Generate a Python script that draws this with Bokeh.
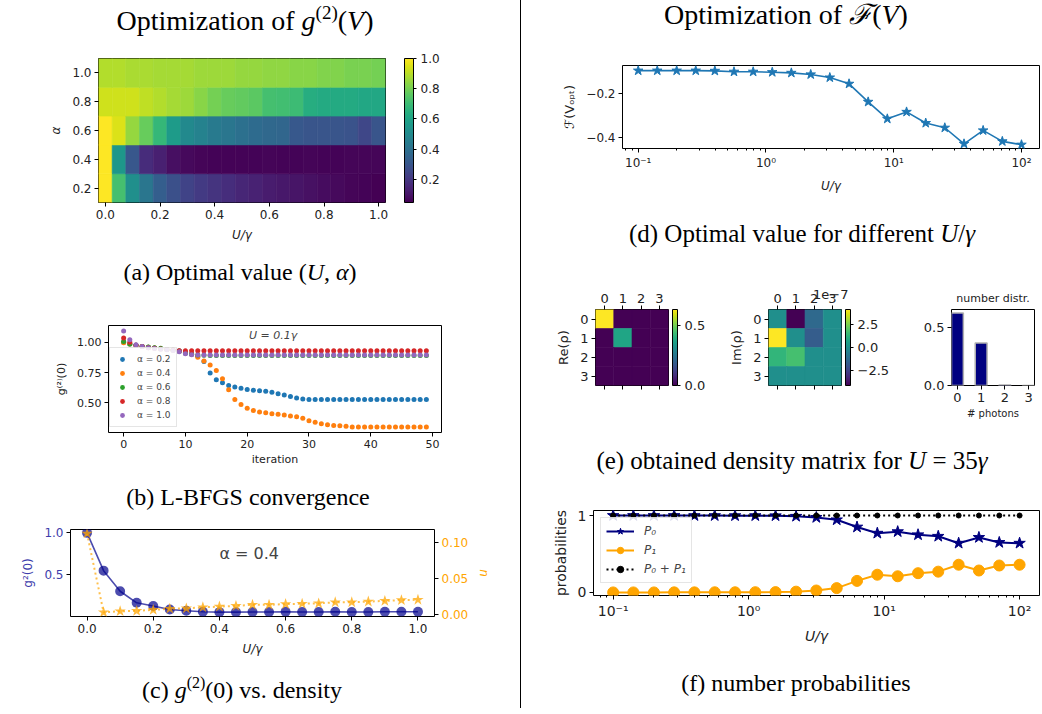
import numpy as np
from bokeh.plotting import figure
from bokeh.models import (ColumnDataSource, LinearColorMapper, ColorBar, Range1d, LinearAxis,
                          FixedTicker, PrintfTickFormatter, CustomJSTickFormatter, Label,
                          Legend, LegendItem, Div, Title)
from bokeh.layouts import row, column
from bokeh.palettes import Viridis256
from bokeh.transform import transform
from bokeh.embed import file_html
from bokeh.resources import INLINE

FONT = "DejaVu Sans"
SERIF = "Liberation Serif"

# ---------------- data ----------------
# (a) heatmap of g2 over (U, alpha)
u_grid = [0.00, 0.05, 0.10, 0.15, 0.20, 0.25, 0.30, 0.35, 0.40, 0.45, 0.50,
          0.55, 0.60, 0.65, 0.70, 0.75, 0.80, 0.85, 0.90, 0.95, 1.00]
alpha_grid = [0.2, 0.4, 0.6, 0.8, 1.0]
g2_alpha02 = [1.00, 0.72, 0.52, 0.42, 0.33, 0.28, 0.24, 0.21, 0.19, 0.17, 0.15,
              0.14, 0.12, 0.11, 0.10, 0.09, 0.08, 0.07, 0.06, 0.055, 0.047]
g2_alpha04 = [1.000, 0.550, 0.305, 0.167, 0.130, 0.087, 0.072, 0.060, 0.056, 0.056, 0.057,
              0.058, 0.060, 0.058, 0.057, 0.060, 0.057, 0.058, 0.060, 0.060, 0.061]
g2_alpha06 = [1.00, 0.95, 0.85, 0.78, 0.68, 0.57, 0.50, 0.47, 0.44, 0.42, 0.40,
              0.38, 0.37, 0.36, 0.31, 0.30, 0.30, 0.30, 0.29, 0.25, 0.30]
g2_alpha08 = [0.93, 0.93, 0.93, 0.91, 0.89, 0.87, 0.86, 0.83, 0.80, 0.78, 0.77,
              0.76, 0.72, 0.71, 0.70, 0.64, 0.63, 0.63, 0.63, 0.62, 0.62]
g2_alpha10 = [0.89, 0.89, 0.88, 0.88, 0.87, 0.87, 0.87, 0.86, 0.86, 0.86, 0.85,
              0.85, 0.84, 0.84, 0.83, 0.83, 0.82, 0.82, 0.81, 0.81, 0.80]

# (b) L-BFGS convergence at U = 0.1 gamma
iterations = list(range(50))
conv_a02 = [1.000, 0.985, 0.975, 0.965, 0.958, 0.952, 0.946, 0.940, 0.935, 0.930,
            0.918, 0.905, 0.885, 0.840, 0.745, 0.690, 0.665, 0.643, 0.630, 0.620,
            0.610, 0.603, 0.600, 0.595, 0.588, 0.575, 0.565, 0.552, 0.540, 0.532,
            0.528, 0.527, 0.527, 0.527, 0.527, 0.527, 0.527, 0.527, 0.527, 0.527,
            0.527, 0.527, 0.527, 0.527, 0.527, 0.527, 0.527, 0.527, 0.527, 0.527]
conv_a04 = [0.995, 0.985, 0.975, 0.965, 0.958, 0.952, 0.946, 0.940, 0.935, 0.928,
            0.915, 0.900, 0.876, 0.845, 0.813, 0.767, 0.698, 0.607, 0.527, 0.486,
            0.456, 0.437, 0.425, 0.418, 0.410, 0.405, 0.400, 0.392, 0.385, 0.372,
            0.352, 0.340, 0.328, 0.318, 0.312, 0.310, 0.307, 0.300, 0.300, 0.300,
            0.300, 0.300, 0.300, 0.300, 0.300, 0.300, 0.300, 0.300, 0.300, 0.300]
conv_a06 = [1.005, 0.985, 0.975, 0.965, 0.960, 0.955, 0.950, 0.940, 0.935, 0.925,
            0.910, 0.900, 0.895, 0.892, 0.890, 0.890, 0.890, 0.890, 0.890, 0.890,
            0.890, 0.890, 0.890, 0.890, 0.890, 0.890, 0.890, 0.890, 0.890, 0.890,
            0.890, 0.890, 0.890, 0.890, 0.890, 0.890, 0.890, 0.890, 0.890, 0.890,
            0.890, 0.890, 0.890, 0.890, 0.890, 0.890, 0.890, 0.890, 0.890, 0.890]
conv_a08 = [1.035, 1.000, 0.975, 0.965, 0.955, 0.950, 0.945, 0.940, 0.935, 0.930,
            0.930, 0.930, 0.930, 0.930, 0.930, 0.930, 0.930, 0.930, 0.930, 0.930,
            0.930, 0.930, 0.930, 0.930, 0.930, 0.930, 0.930, 0.930, 0.930, 0.930,
            0.930, 0.930, 0.930, 0.930, 0.930, 0.930, 0.930, 0.930, 0.930, 0.930,
            0.930, 0.930, 0.930, 0.930, 0.930, 0.930, 0.930, 0.930, 0.930, 0.930]
conv_a10 = [1.092, 1.020, 0.980, 0.965, 0.955, 0.948, 0.942, 0.937, 0.932, 0.922,
            0.905, 0.897, 0.895, 0.895, 0.895, 0.895, 0.895, 0.895, 0.895, 0.895,
            0.895, 0.895, 0.895, 0.895, 0.895, 0.895, 0.895, 0.895, 0.895, 0.895,
            0.895, 0.895, 0.895, 0.895, 0.895, 0.895, 0.895, 0.895, 0.895, 0.895,
            0.895, 0.895, 0.895, 0.895, 0.895, 0.895, 0.895, 0.895, 0.895, 0.895]
conv_labels = ["α = 0.2", "α = 0.4", "α = 0.6", "α = 0.8", "α = 1.0"]
conv_colors = ["#1f77b4", "#ff7f0e", "#2ca02c", "#d62728", "#9467bd"]

# (c) g2 and density n at alpha = 0.4
n_alpha04 = [0.1130, 0.0030, 0.0045, 0.0050, 0.0065, 0.0080, 0.0085, 0.0100, 0.0110, 0.0120, 0.0135,
             0.0135, 0.0145, 0.0150, 0.0155, 0.0170, 0.0170, 0.0180, 0.0190, 0.0200, 0.0205]

# (d) optimal cost vs U/gamma
u_log = [0.1, 0.141, 0.2, 0.282, 0.398, 0.562, 0.794, 1.12, 1.58, 2.24, 3.16,
         4.47, 6.31, 8.91, 12.6, 17.8, 25.1, 35.5, 50.1, 70.8, 100.0]
f_opt = [-0.099, -0.099, -0.099, -0.099, -0.100, -0.104, -0.104, -0.106, -0.109, -0.116, -0.130,
         -0.158, -0.239, -0.315, -0.284, -0.334, -0.355, -0.427, -0.367, -0.416, -0.431]

# (e) density matrix at U = 35 gamma
fock = [0, 1, 2, 3]
re_rho = [[0.63, 0.0, 0.0, 0.0],
          [0.0, 0.37, 0.0, 0.0],
          [0.0, 0.0, 0.0, 0.0],
          [0.0, 0.0, 0.0, 0.0]]
im_rho = [[0.0, -4.15e-7, -1.3e-7, 0.0],
          [4.15e-7, 0.0, -1.7e-7, 0.0],
          [1.3e-7, 1.7e-7, 0.0, 0.0],
          [0.0, 0.0, 0.0, 0.0]]
photon_prob = [0.63, 0.37, 0.004, 0.0005]

# (f) number probabilities
p0 = [1.000, 1.000, 1.000, 1.000, 0.999, 0.999, 0.998, 0.998, 0.997, 0.990, 0.975,
      0.944, 0.850, 0.770, 0.790, 0.750, 0.730, 0.640, 0.715, 0.650, 0.640]
p1 = [0.000, 0.000, 0.000, 0.001, 0.001, 0.002, 0.002, 0.003, 0.004, 0.010, 0.025,
      0.056, 0.150, 0.230, 0.210, 0.250, 0.270, 0.360, 0.285, 0.350, 0.360]
p_sum = [1.000, 1.000, 1.000, 1.001, 1.000, 1.001, 1.000, 1.001, 1.001, 1.000, 1.000,
         1.000, 1.000, 1.000, 1.000, 1.000, 1.000, 1.000, 1.000, 1.000, 1.000]


# ---------------- helpers ----------------
def mkfig(fw, fh, bl, br, bt, bb, **kw):
    p = figure(frame_width=fw, frame_height=fh, min_border_left=bl, min_border_right=br,
               min_border_top=bt, min_border_bottom=bb, toolbar_location=None,
               output_backend="svg", frame_align=False, **kw)
    p.background_fill_color = "white"
    p.border_fill_color = "white"
    p.outline_line_color = "black"
    p.outline_line_width = 1
    p.outline_line_alpha = 1
    p.grid.visible = False
    return p


def style_axes(p, fs="11px"):
    for ax in p.axis:
        ax.axis_line_color = None
        ax.major_tick_line_color = "black"
        ax.major_tick_out = 4
        ax.major_tick_in = 0
        ax.minor_tick_line_color = None
        ax.major_label_text_font = FONT
        ax.major_label_text_font_size = fs
        ax.major_label_text_color = "#222222"
        ax.axis_label_text_font = FONT
        ax.axis_label_text_font_size = fs
        ax.axis_label_text_font_style = "normal"
        ax.axis_label_text_color = "#222222"
        ax.major_label_standoff = 3
        ax.axis_label_standoff = 6


def log_fmt():
    return CustomJSTickFormatter(code="""
const e = Math.round(Math.log10(tick));
const m = {'-': '\u207b', '0': '\u2070', '1': '\u00b9', '2': '\u00b2', '3': '\u00b3'};
return '10' + String(e).split('').map(c => m[c]).join('');
""")


def text_div(html, width, height, center, cy_rel, size=24):
    lh = size + 4
    top = cy_rel - lh // 2
    inner = (f'<div style="position:relative;left:{center - 300}px;width:600px;text-align:center;'
             f'font-family:\'{SERIF}\';font-size:{size}px;line-height:{lh}px;margin-top:{top}px;'
             f'color:#000;white-space:nowrap;">{html}</div>')
    return Div(text=inner, width=width, height=height, margin=0)


def sup(size):
    return (f'<sup style="font-size:{int(size * 0.68)}px;line-height:0;'
            f'vertical-align:{int(size * 0.42)}px;">(2)</sup>')


def cbar(mapper, width, height, ticks, formatter, fs, gap):
    return ColorBar(color_mapper=mapper, width=width, height=height, padding=0, margin=0,
                    location=(gap, 0),
                    label_standoff=4, ticker=FixedTicker(ticks=ticks), formatter=formatter,
                    major_label_text_font=FONT, major_label_text_font_size=fs,
                    major_label_text_color="#222222",
                    major_tick_line_color="black", major_tick_in=0, major_tick_out=3,
                    bar_line_color="black", border_line_color=None, background_fill_color=None)


# ---------------- (a) heatmap ----------------
g2_rows = [g2_alpha02, g2_alpha04, g2_alpha06, g2_alpha08, g2_alpha10]
hx, hy, hv = [], [], []
for a, rowvals in zip(alpha_grid, g2_rows):
    for u, v in zip(u_grid, rowvals):
        hx.append(u)
        hy.append(a)
        hv.append(v)
map_a = LinearColorMapper(palette=Viridis256, low=min(hv), high=max(hv))
pa = mkfig(287, 144, 98, 135, 14, 48, x_range=Range1d(-0.025, 1.025), y_range=Range1d(0.1, 1.1))
pa.rect(x="x", y="y", width=0.05, height=0.2, source=ColumnDataSource(dict(x=hx, y=hy, v=hv)),
        fill_color=transform("v", map_a), line_color=transform("v", map_a), line_width=0.6)
pa.xaxis.ticker = FixedTicker(ticks=[0.0, 0.2, 0.4, 0.6, 0.8, 1.0])
pa.yaxis.ticker = FixedTicker(ticks=[0.2, 0.4, 0.6, 0.8, 1.0])
pa.xaxis.formatter = PrintfTickFormatter(format="%.1f")
pa.yaxis.formatter = PrintfTickFormatter(format="%.1f")
pa.xaxis.axis_label = "U/γ"
pa.yaxis.axis_label = "α"
style_axes(pa, "12px")
pa.xaxis.axis_label_text_font_style = "italic"
pa.yaxis.axis_label_text_font_style = "italic"
pa.add_layout(cbar(map_a, 9, 144, [0.2, 0.4, 0.6, 0.8, 1.0], PrintfTickFormatter(format="%.1f"),
                   "12px", 19), "right")

# ---------------- (b) convergence ----------------
pb = mkfig(333, 107, 108, 79, 37, 38, x_range=Range1d(-2.45, 51.45), y_range=Range1d(0.255, 1.138))
items = []
for vals, lab, col in zip([conv_a02, conv_a04, conv_a06, conv_a08, conv_a10], conv_labels, conv_colors):
    r = pb.scatter(iterations, vals, size=5, color=col, line_color=None)
    items.append(LegendItem(label=lab, renderers=[r]))
leg_b = Legend(items=items, location=(1, 5), label_text_font=FONT, label_text_font_size="9px",
               label_height=12, glyph_height=12, glyph_width=14, spacing=2, padding=5, margin=0,
               border_line_color="#cccccc", background_fill_alpha=0.85, label_standoff=8)
pb.add_layout(leg_b, "center")
pb.add_layout(Label(x=24.2, y=1.055, text="U = 0.1γ", text_font=FONT, text_font_size="11px",
                    text_font_style="italic", text_align="center", text_baseline="middle"))
pb.xaxis.ticker = FixedTicker(ticks=[0, 10, 20, 30, 40, 50])
pb.yaxis.ticker = FixedTicker(ticks=[0.5, 0.75, 1.0])
pb.yaxis.formatter = PrintfTickFormatter(format="%.2f")
pb.xaxis.axis_label = "iteration"
pb.yaxis.axis_label = "g⁽²⁾(0)"
style_axes(pb, "11px")
pb.xaxis.axis_label_standoff = 2

# ---------------- (c) g2 vs density ----------------
pc = mkfig(364, 87, 70, 86, 14, 49, x_range=Range1d(-0.05, 1.05), y_range=Range1d(0.004, 1.04))
pc.extra_y_ranges = {"n": Range1d(-0.0028, 0.1186)}
pc.line(u_grid, g2_alpha04, color="darkblue", alpha=0.7, line_width=1.6)
pc.scatter(u_grid, g2_alpha04, size=10, color="darkblue", alpha=0.7, line_color=None)
pc.line(u_grid, n_alpha04, y_range_name="n", color="orange", alpha=0.7, line_width=2, line_dash="2 3")
pc.scatter(u_grid, n_alpha04, y_range_name="n", marker="star", size=12, color="orange",
           alpha=0.75, line_color=None)
ax_n = LinearAxis(y_range_name="n", ticker=FixedTicker(ticks=[0.0, 0.05, 0.10]),
                  formatter=PrintfTickFormatter(format="%.2f"), axis_label="n")
pc.add_layout(ax_n, "right")
pc.xaxis.ticker = FixedTicker(ticks=[0.0, 0.2, 0.4, 0.6, 0.8, 1.0])
pc.xaxis.formatter = PrintfTickFormatter(format="%.1f")
pc.yaxis[0].ticker = FixedTicker(ticks=[0.5, 1.0])
pc.yaxis[0].formatter = PrintfTickFormatter(format="%.1f")
pc.xaxis.axis_label = "U/γ"
pc.yaxis[0].axis_label = "g²(0)"
style_axes(pc, "12px")
pc.xaxis.axis_label_text_font_style = "italic"
pc.yaxis[0].major_label_text_color = "#3d3dab"
pc.yaxis[0].axis_label_text_color = "#3d3dab"
ax_n.major_label_text_color = "#ffa500"
ax_n.axis_label_text_color = "#ffa500"
ax_n.axis_label_text_font_style = "italic"
ax_n.axis_label_standoff = 6
pc.add_layout(Label(x=0.49, y=0.75, text="α = 0.4", text_font=FONT, text_font_size="16px",
                    text_align="center", text_baseline="middle"))

# ---------------- (d) optimal value ----------------
pd_ = mkfig(417, 83, 101, 1, 15, 57, x_axis_type="log",
            x_range=Range1d(10 ** -1.123, 10 ** 2.141), y_range=Range1d(-0.448, -0.076))
pd_.line(u_log, f_opt, color="#1f77b4", line_width=1.6)
pd_.scatter(u_log, f_opt, marker="star", size=10, color="#1f77b4")
pd_.xaxis.formatter = log_fmt()
pd_.yaxis.ticker = FixedTicker(ticks=[-0.4, -0.2])
pd_.yaxis.formatter = CustomJSTickFormatter(code="return tick.toFixed(1).replace('-', '\u2212');")
pd_.xaxis.axis_label = "U/γ"
pd_.yaxis.axis_label = "ℱ(Vₒₚₜ)"
style_axes(pd_, "12px")
pd_.yaxis.axis_label_text_font_size = "13px"
pd_.xaxis.axis_label_text_font_style = "italic"
pd_.xaxis.minor_tick_line_color = "black"
pd_.xaxis.minor_tick_out = 2
pd_.xaxis.minor_tick_in = 0


# ---------------- (e) density matrix ----------------
def matrix_fig(mat, bl, br, label, mapper, **kw):
    cx, cy, cv = [], [], []
    for i, rowvals in enumerate(mat):
        for j, v in enumerate(rowvals):
            cx.append(fock[j])
            cy.append(fock[i])
            cv.append(v)
    p = mkfig(76, 76, bl, br, 54, 55, x_range=Range1d(-0.5, 3.5), y_range=Range1d(3.5, -0.5),
              x_axis_location="above", **kw)
    p.rect(x="x", y="y", width=1, height=1, source=ColumnDataSource(dict(x=cx, y=cy, v=cv)),
           fill_color=transform("v", mapper), line_color=transform("v", mapper), line_width=0.6)
    p.add_layout(LinearAxis(formatter=CustomJSTickFormatter(code="return '';")), "below")
    for ax in p.axis:
        ax.ticker = FixedTicker(ticks=fock)
    p.yaxis.axis_label = label
    style_axes(p, "13px")
    p.below[0].major_label_standoff = 0
    return p


map_re = LinearColorMapper(palette=Viridis256, low=0.0, high=max(max(r) for r in re_rho))
pe1 = matrix_fig(re_rho, 74, 42, "Re(ρ)", map_re)
pe1.add_layout(cbar(map_re, 5, 76, [0.0, 0.5], PrintfTickFormatter(format="%.1f"), "13px", 4), "right")

im_lim = max(abs(v) for r in im_rho for v in r)
map_im = LinearColorMapper(palette=Viridis256, low=-im_lim, high=im_lim)
pe2 = matrix_fig(im_rho, 58, 44, "Im(ρ)", map_im)
pe2.add_layout(cbar(map_im, 5, 76, [-2.5e-7, 0.0, 2.5e-7],
                    CustomJSTickFormatter(code="return (tick*1e7).toFixed(1).replace('-', '\u2212');"),
                    "13px", 4), "right")
pe2.add_layout(Title(text="1e\u22127", align="right", text_font=FONT, text_font_size="13px",
                     text_font_style="normal", text_color="#222222", standoff=-16, offset=-7),
               "above")

pe3 = mkfig(86, 76, 59, 5, 54, 55, x_range=Range1d(-0.25, 3.25), y_range=Range1d(0.0, 0.66),
            title="number distr.")
pe3.vbar(x=fock, top=photon_prob, width=0.5, fill_color="navy", line_color="#b0b0b0", line_width=1.5)
pe3.xaxis.ticker = FixedTicker(ticks=fock)
pe3.yaxis.ticker = FixedTicker(ticks=[0.0, 0.5])
pe3.yaxis.formatter = PrintfTickFormatter(format="%.1f")
pe3.xaxis.axis_label = "# photons"
style_axes(pe3, "13px")
pe3.xaxis.axis_label_text_font_size = "10px"
pe3.xaxis.axis_label_standoff = 3
pe3.title.text_font = FONT
pe3.title.text_font_size = "11px"
pe3.title.text_font_style = "normal"
pe3.title.align = "center"
pe3.title.text_color = "#222222"

# ---------------- (f) number probabilities ----------------
pf = mkfig(446, 85, 72, 1, 25, 65, x_axis_type="log",
           x_range=Range1d(10 ** -1.145, 10 ** 2.147), y_range=Range1d(-0.04, 1.065))
r0l = pf.line(u_log, p0, color="navy", line_width=2)
r0m = pf.scatter(u_log, p0, marker="star", size=12, color="navy")
r1l = pf.line(u_log, p1, color="orange", line_width=2)
r1m = pf.scatter(u_log, p1, size=11, color="orange")
r2l = pf.line(u_log, p_sum, color="black", line_width=2, line_dash="2 3")
r2m = pf.scatter(u_log, p_sum, size=5, color="black")
leg_f = Legend(items=[LegendItem(label="P₀", renderers=[r0l, r0m]),
                      LegendItem(label="P₁", renderers=[r1l, r1m]),
                      LegendItem(label="P₀ + P₁", renderers=[r2l, r2m])],
               location="top_left", label_text_font=FONT, label_text_font_size="12px",
               label_text_font_style="italic",
               label_height=16, glyph_height=16, glyph_width=28, spacing=3, padding=5, margin=7,
               border_line_color="#cccccc", background_fill_alpha=0.85, label_standoff=10)
pf.add_layout(leg_f, "center")
pf.xaxis.formatter = log_fmt()
pf.yaxis.ticker = FixedTicker(ticks=[0, 1])
pf.xaxis.axis_label = "U/γ"
pf.yaxis.axis_label = "probabilities"
style_axes(pf, "14px")
pf.xaxis.axis_label_text_font_style = "italic"
pf.xaxis.minor_tick_line_color = "black"
pf.xaxis.minor_tick_out = 2
pf.xaxis.minor_tick_in = 0

# ---------------- layout ----------------
left = column(
    text_div(f"Optimization of <i>g</i>{sup(28)}(<i>V</i>)", 520, 44, 245, 21, 28),
    pa,
    text_div("(a) Optimal value (<i>U</i>, <i>α</i>)", 520, 38, 240, 22),
    pb,
    text_div("(b) L-BFGS convergence", 520, 45, 248, 27),
    pc,
    text_div(f"(c) <i>g</i>{sup(24)}(0) vs. density", 520, 43, 242, 25),
    spacing=0, width=520)
vline = Div(text="", width=1, height=708, margin=0, styles={"background-color": "black"})
right = column(
    text_div("Optimization of <i>ℱ</i>(<i>V</i>)", 519, 50, 265, 15, 28),
    pd_,
    text_div("(d) Optimal value for different <i>U</i>/<i>γ</i>", 519, 50, 281, 28, 25),
    row(pe1, pe2, pe3, spacing=0),
    text_div("(e) obtained density matrix for <i>U</i> = 35<i>γ</i>", 519, 45, 271, 20, 25),
    pf,
    text_div("(f) number probabilities", 519, 48, 275, 23),
    spacing=0, width=519)
root = row(left, vline, right, spacing=0)

open("out.html", "w").write(file_html(root, INLINE))
